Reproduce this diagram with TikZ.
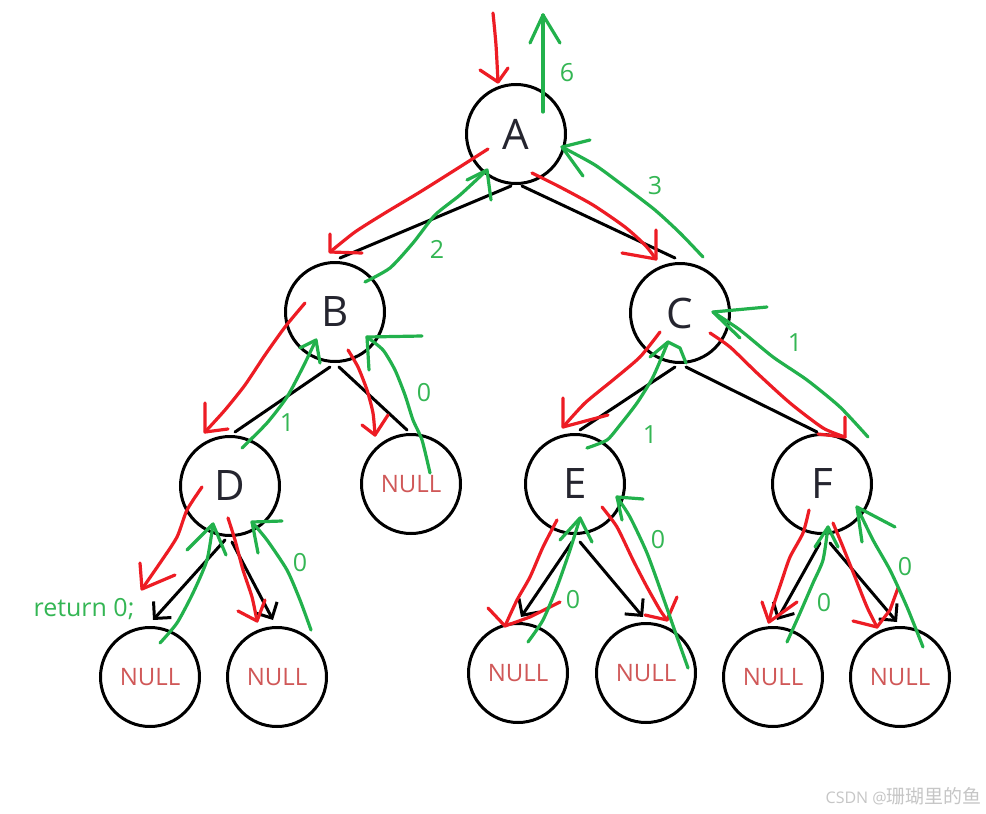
\documentclass[tikz,border=0pt]{standalone}
\usepackage{fontspec}
\setmainfont{Open Sans}
\newfontfamily\cjk{Noto Sans CJK SC}
\usetikzlibrary{arrows.meta}
\definecolor{pred}{RGB}{237,28,36}
\definecolor{pgreen}{RGB}{34,177,76}
\definecolor{lblgreen}{RGB}{52,182,84}
\definecolor{nullred}{RGB}{208,88,88}
\definecolor{ink}{RGB}{37,37,47}
\begin{document}
\begin{tikzpicture}[x=1pt,y=-1pt,
  tnode/.style={circle,draw=black,line width=3pt,minimum size=99pt,inner sep=0pt,
    font=\fontsize{42}{42}\selectfont,text=ink},
  nnode/.style={tnode,font=\fontsize{24}{24}\selectfont,text=nullred},
  edge/.style={draw=black,line width=3pt,line cap=round},
  aedge/.style={edge,-{Straight Barb[angle=90:17pt]}},
  hs/.style={line width=3.2pt,line cap=round,line join=round},
  rs/.style={hs,draw=pred},
  gs/.style={hs,draw=pgreen},
  lbl/.style={text=lblgreen,font=\fontsize{25}{25}\selectfont,inner sep=0pt}
]
\fill[white] (0,0) rectangle (986,814);
\path[use as bounding box] (0,0) rectangle (986,814);

% nodes
\node[tnode] (A) at (516,134) {A};
\node[tnode] (B) at (335,312) {B};
\node[tnode] (C) at (680,313) {C};
\node[tnode] (D) at (230,486) {D};
\node[nnode] (N1) at (411,484) {NULL};
\node[tnode] (E) at (575,484) {E};
\node[tnode] (F) at (822,484) {F};
\node[nnode] (N2) at (150,677) {NULL};
\node[nnode] (N3) at (277,677) {NULL};
\node[nnode] (N4) at (518,673) {NULL};
\node[nnode] (N5) at (646,673) {NULL};
\node[nnode] (N6) at (773,677) {NULL};
\node[nnode] (N7) at (900,677) {NULL};

% black tree edges
\draw[edge] ([shift={(-5,52)}]A.center) -- ([shift={(5,-54)}]B.center);
\draw[edge] ([shift={(6,52)}]A.center) -- ([shift={(-5,-55)}]C.center);
\draw[edge] ([shift={(-5,55)}]B.center) -- ([shift={(5,-54)}]D.center);
\draw[edge] ([shift={(4,55)}]B.center) -- ([shift={(-4,-54)}]N1.center);
\draw[edge] ([shift={(-5,54)}]C.center) -- ([shift={(5,-54)}]E.center);
\draw[edge] ([shift={(6,54)}]C.center) -- ([shift={(-5,-52)}]F.center);
\draw[aedge] ([shift={(-5,54)}]D.center) -- ([shift={(3,-57)}]N2.center);
\draw[aedge] ([shift={(2,56)}]D.center) -- ([shift={(-4,-57)}]N3.center);
\draw[aedge] ([shift={(-3,58)}]E.center) -- ([shift={(3,-56)}]N4.center);
\draw[aedge] ([shift={(5,58)}]E.center) -- ([shift={(-3,-56)}]N5.center);
\draw[aedge] ([shift={(-2,59)}]F.center) -- ([shift={(4,-57)}]N6.center);
\draw[aedge] ([shift={(8,59)}]F.center) -- ([shift={(-3,-55)}]N7.center);

% red strokes (going down)
\draw[rs] plot[smooth,tension=0.4] coordinates {(493,13) (496,45) (498,82)};
\draw[rs] (480,70) -- (498,82) -- (508,68);
\draw[rs] plot[smooth,tension=0.4] coordinates {(488,149) (455,170) (420,192) (385,213) (355,232) (330,252)};
\draw[rs] (330,234) -- (330,252) -- (362,253);
\draw[rs] plot[smooth,tension=0.4] coordinates {(532,173) (560,187) (593,205) (625,227) (645,245) (656,259)};
\draw[rs] (656,230) -- (656,259) -- (622,253);
\draw[rs] plot[smooth,tension=0.4] coordinates {(305,303) (285,327) (265,355) (245,385) (225,410) (205,432)};
\draw[rs] (205,403) -- (205,432) -- (228,429);
\draw[rs] plot[smooth,tension=0.4] coordinates {(348,350) (358,367) (367,390) (373,413) (375,435)};
\draw[rs] (362,425) -- (375,435) -- (388,415);
\draw[rs] plot[smooth,tension=0.4] coordinates {(660,332) (640,357) (613,380) (585,403) (563,427)};
\draw[rs] (563,398) -- (563,427) -- (608,415);
\draw[rs] plot[smooth,tension=0.4] coordinates {(710,333) (730,347) (757,373) (790,403) (823,428) (845,437)};
\draw[rs] (845,417) -- (845,437) -- (818,434);
\draw[rs] plot[smooth,tension=0.4] coordinates {(202,487) (187,510) (177,537) (160,563) (142,589)};
\draw[rs] (140,563) -- (142,589) -- (175,575);
\draw[rs] plot[smooth,tension=0.4] coordinates {(228,518) (235,540) (243,570) (252,597) (257,621)};
\draw[rs] (238,611) -- (257,621) -- (265,600);
\draw[rs] plot[smooth,tension=0.4] coordinates {(557,520) (543,547) (530,577) (517,600) (505,626)};
\draw[rs] (488,608) -- (505,626) -- (530,617) -- (560,602);
\draw[rs] plot[smooth,tension=0.4] coordinates {(602,507) (617,527) (633,560) (647,587) (660,610) (667,620)};
\draw[rs] (645,615) -- (667,620) -- (677,597);
\draw[rs] plot[smooth,tension=0.4] coordinates {(809,510) (803,533) (790,557) (782,580) (772,610) (769,622)};
\draw[rs] (762,602) -- (769,622) -- (797,602);
\draw[rs] plot[smooth,tension=0.4] coordinates {(833,523) (843,547) (855,577) (867,607) (877,627)};
\draw[rs] (853,621) -- (877,627) -- (890,610) -- (898,588);

% green strokes (returning)
\draw[gs] plot[smooth,tension=0.4] coordinates {(543,112) (543,60) (543,15)};
\draw[gs] (530,43) -- (543,15) -- (560,43);
\draw[gs] plot[smooth,tension=0.4] coordinates {(365,282) (390,268) (413,243) (435,215) (460,195) (487,170)};
\draw[gs] (467,180) -- (487,170) -- (491,200);
\draw[gs] plot[smooth,tension=0.4] coordinates {(703,257) (680,233) (655,210) (625,187) (595,165) (562,147)};
\draw[gs] (590,140) -- (562,147) -- (583,176);
\draw[gs] plot[smooth,tension=0.4] coordinates {(242,448) (267,423) (287,397) (303,367) (316,340)};
\draw[gs] (300,348) -- (316,340) -- (320,363);
\draw[gs] plot[smooth,tension=0.4] coordinates {(430,473) (422,440) (413,420) (405,395) (395,370) (383,350) (367,337)};
\draw[gs] (422,336) -- (367,337) -- (369,370);
\draw[gs] plot[smooth,tension=0.4] coordinates {(587,448) (607,440) (620,425) (637,403) (653,377) (668,342)};
\draw[gs] (650,357) -- (668,342) -- (680,348) -- (686,363);
\draw[gs] plot[smooth,tension=0.4] coordinates {(868,437) (840,407) (807,380) (773,357) (740,330) (713,312)};
\draw[gs] (767,307) -- (713,312) -- (740,338);
\draw[gs] plot[smooth,tension=0.4] coordinates {(160,643) (177,623) (193,593) (207,560) (213,524)};
\draw[gs] (187,550) -- (213,524) -- (226,555);
\draw[gs] plot[smooth,tension=0.4] coordinates {(311,630) (300,600) (287,570) (267,540) (252,522)};
\draw[gs] (282,521) -- (252,522) -- (258,553);
\draw[gs] plot[smooth,tension=0.4] coordinates {(528,642) (543,620) (557,587) (570,550) (580,518)};
\draw[gs] (560,540) -- (580,518) -- (592,542);
\draw[gs] plot[smooth,tension=0.4] coordinates {(688,668) (677,637) (663,597) (647,553) (630,517) (617,497)};
\draw[gs] (643,499) -- (617,497) -- (622,520);
\draw[gs] plot[smooth,tension=0.4] coordinates {(787,642) (800,613) (813,583) (823,560) (828,527)};
\draw[gs] (815,547) -- (828,527) -- (838,547);
\draw[gs] plot[smooth,tension=0.4] coordinates {(923,647) (907,607) (890,570) (873,540) (857,507)};
\draw[gs] (895,527) -- (857,507) -- (862,542);

% green labels
\node[lbl] (l6) at (567,73) {6};
\node[lbl] (l2) at (437,249) {2};
\node[lbl] (l3) at (655,186) {3};
\node[lbl] (l1a) at (287,423) {1};
\node[lbl] (l0a) at (424,393) {0};
\node[lbl] (l1b) at (650,435) {1};
\node[lbl] (l1c) at (795,343) {1};
\node[lbl] (l0b) at (300,563) {0};
\node[lbl] (l0c) at (573,600) {0};
\node[lbl] (l0d) at (658,540) {0};
\node[lbl] (l0e) at (824,603) {0};
\node[lbl] (l0f) at (905,567) {0};
\node[lbl] (ret) at (84,609) {return 0;};

% watermark
\node[text=gray!45,inner sep=0pt,anchor=east] (wm) at (982,796)
  {\fontsize{16}{16}\selectfont CSDN @{\cjk\fontsize{19}{19}\selectfont 珊瑚里的鱼}};
\end{tikzpicture}
\end{document}
